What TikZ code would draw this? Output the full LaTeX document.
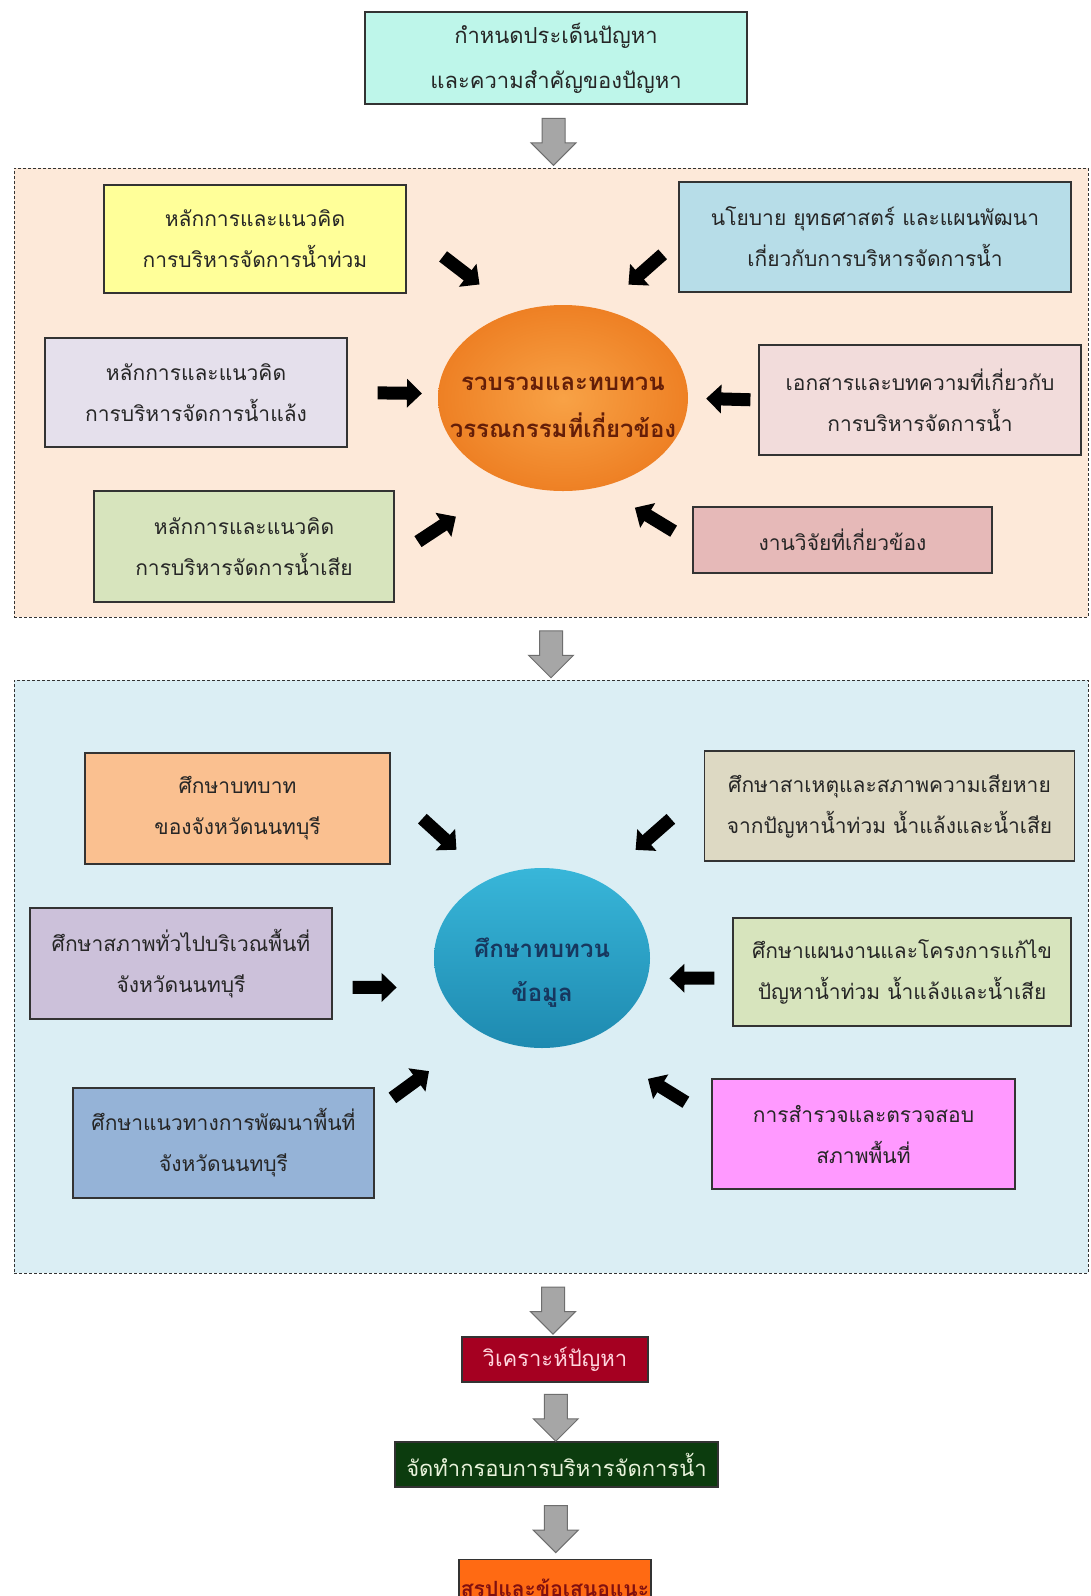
\documentclass[tikz,border=0pt]{standalone}
\usepackage{fontspec}
\newfontfamily\thai[Script=Thai]{Loma}
\usetikzlibrary {arrows.meta,calc,shapes.arrows,shapes.geometric}

\definecolor{cProb}{RGB}{190,246,234}
\definecolor{cFlood}{RGB}{255,255,153}
\definecolor{cPolicy}{RGB}{183,221,232}
\definecolor{cDrought}{RGB}{229,224,236}
\definecolor{cDocs}{RGB}{242,220,219}
\definecolor{cWaste}{RGB}{215,228,189}
\definecolor{cResearch}{RGB}{230,185,184}
\definecolor{cRole}{RGB}{250,192,144}
\definecolor{cCause}{RGB}{221,217,195}
\definecolor{cArea}{RGB}{204,193,218}
\definecolor{cPlan}{RGB}{215,228,189}
\definecolor{cDev}{RGB}{149,179,215}
\definecolor{cSurvey}{RGB}{255,153,255}
\definecolor{cPanelA}{RGB}{253,233,217}
\definecolor{cPanelB}{RGB}{219,238,244}
\definecolor{cLitIn}{RGB}{248,162,70}
\definecolor{cLitOut}{RGB}{238,128,36}
\definecolor{cLitText}{RGB}{100,30,8}
\definecolor{cDataTop}{RGB}{56,182,217}
\definecolor{cDataBot}{RGB}{30,138,176}
\definecolor{cDataText}{RGB}{23,55,94}
\definecolor{cAnal}{RGB}{165,0,33}
\definecolor{cAnalText}{RGB}{255,214,222}
\definecolor{cFrame}{RGB}{12,60,14}
\definecolor{cFrameText}{RGB}{232,242,218}
\definecolor{cSumm}{RGB}{255,106,19}
\definecolor{cSummText}{RGB}{128,16,16}
\definecolor{cArrow}{RGB}{166,166,166}
\definecolor{cArrowLine}{RGB}{110,110,110}

\begin{document}
\begin{tikzpicture}[x= 1pt, y= -1pt, font= \thai\fontsize{21}{41}\selectfont, text= black!85]
      \useasboundingbox (0,0) rectangle (1090,1596);
      \fill[white] (0,0) rectangle (1090,1596);
      \begin{scope}[every node/.style={rectangle,densely dashed,draw= black!80,line width= 0.8pt,minimum width= 1074pt}]
        \node[fill= cPanelA, minimum height= 449pt] (panelA) at (551,392.5) {};
        \node[fill= cPanelB, minimum height= 593pt] (panelB) at (551,976.5) {};
      \end{scope}
      \begin{scope}[every node/.style={rectangle,draw= black!80,line width= 1.2pt,align= center,inner sep= 2pt}]
        \node[fill= cProb, minimum width= 382pt, minimum height= 92pt, font= \thai\fontsize{22}{45}\selectfont] (prob) at (556,58) {กำหนดประเด็นปัญหา\\และความสำคัญของปัญหา};
        \node[fill= cFlood, minimum width= 302pt, minimum height= 108pt] (flood) at (255,239) {หลักการและแนวคิด\\การบริหารจัดการน้ำท่วม};
        \node[fill= cPolicy, minimum width= 392pt, minimum height= 110pt] (policy) at (875,237) {นโยบาย ยุทธศาสตร์ และแผนพัฒนา\\เกี่ยวกับการบริหารจัดการน้ำ};
        \node[fill= cDrought, minimum width= 302pt, minimum height= 109pt] (drought) at (196,392.5) {หลักการและแนวคิด\\การบริหารจัดการน้ำแล้ง};
        \node[fill= cDocs, minimum width= 322pt, minimum height= 110pt] (docs) at (920,400) {เอกสารและบทความที่เกี่ยวกับ\\การบริหารจัดการน้ำ};
        \node[fill= cWaste, minimum width= 300pt, minimum height= 111pt] (waste) at (244,546.5) {หลักการและแนวคิด\\การบริหารจัดการน้ำเสีย};
        \node[fill= cResearch, minimum width= 299pt, minimum height= 66pt] (research) at (842.5,540) {งานวิจัยที่เกี่ยวข้อง};
        \node[fill= cRole, minimum width= 305pt, minimum height= 111pt] (role) at (237.5,808.5) {ศึกษาบทบาท\\ของจังหวัดนนทบุรี};
        \node[fill= cCause, minimum width= 370pt, minimum height= 110pt] (cause) at (889.5,806) {ศึกษาสาเหตุและสภาพความเสียหาย\\จากปัญหาน้ำท่วม น้ำแล้งและน้ำเสีย};
        \node[fill= cArea, minimum width= 302pt, minimum height= 111pt] (area) at (181,963.5) {ศึกษาสภาพทั่วไปบริเวณพื้นที่\\จังหวัดนนทบุรี};
        \node[fill= cPlan, minimum width= 338pt, minimum height= 108pt] (plan) at (902,972) {ศึกษาแผนงานและโครงการแก้ไข\\ปัญหาน้ำท่วม น้ำแล้งและน้ำเสีย};
        \node[fill= cDev, minimum width= 301pt, minimum height= 110pt] (dev) at (223.5,1143) {ศึกษาแนวทางการพัฒนาพื้นที่\\จังหวัดนนทบุรี};
        \node[fill= cSurvey, minimum width= 303pt, minimum height= 110pt] (survey) at (863.5,1134) {การสำรวจและตรวจสอบ\\สภาพพื้นที่};
        \node[fill= cAnal, minimum width= 186pt, minimum height= 45pt, text= cAnalText, font= \thai\fontsize{22}{26}\selectfont] (anal) at (555,1359.5) {วิเคราะห์ปัญหา};
        \node[fill= cFrame, minimum width= 323pt, minimum height= 45pt, text= cFrameText, font= \thai\fontsize{22}{26}\selectfont] (frame) at (556.5,1464.5) {จัดทำกรอบการบริหารจัดการน้ำ};
        \node[fill= cSumm, minimum width= 190pt, minimum height= 62pt, anchor= north, text= cSummText, font= \thai\bfseries\fontsize{21}{26}\selectfont] (summ) at (555,1559) {สรุปและข้อเสนอแนะ};
      \end{scope}
      \node[ellipse, minimum width= 250pt, minimum height= 186pt, inner sep= 0pt, inner color= cLitIn, outer color= cLitOut] (lit) at (563,398) {};
      \node[align= center, text= cLitText, yshift= -9pt, font= \thai\bfseries\fontsize{24}{47}\selectfont] (litT) at (lit) {รวบรวมและทบทวน\\วรรณกรรมที่เกี่ยวข้อง};
      \node[ellipse, minimum width= 216pt, minimum height= 180pt, inner sep= 0pt, top color= cDataTop, bottom color= cDataBot] (data) at (542,958) {};
      \node[align= center, text= cDataText, yshift= -15pt, font= \thai\bfseries\fontsize{24}{44}\selectfont] (dataT) at (data) {ศึกษาทบทวน\\ข้อมูล};
      \begin{scope}[every node/.style={single arrow,rotate= -90,fill= cArrow,draw= cArrowLine,line width= 1pt,minimum height= 47pt,inner xsep= 0pt,inner ysep= 11pt,single arrow head extend= 11pt}]
        \node (g1) at ($(prob.south)!0.5!(panelA.north)$) {};
        \node (g2) at ($(panelA.south)!0.5!(panelB.north)$) {};
        \node (g3) at ($(panelB.south)!0.5!(anal.north)$) {};
        \node (g4) at ($(anal.south)!0.5!(frame.north)$) {};
        \node (g5) at ($(frame.south)!0.5!(summ.north)$) {};
      \end{scope}
      \begin{scope}
        [every edge/.style={draw= black, line width= 13pt, -{Triangle[length= 15pt, width= 28pt]}}]
        \path (flood.4) edge[shorten <= 46pt, shorten >= 45pt] (lit.119);
        \path (policy.181) edge[shorten <= 21pt, shorten >= 37pt] (lit.67);
        \path (drought.east) edge[shorten <= 30pt, shorten >= 16pt] (lit.178);
        \path (docs.west) edge[shorten <= 8pt, shorten >= 18pt] (lit.east);
        \path (waste.356) edge[shorten <= 28pt, shorten >= 63pt] (lit.237);
        \path (research.181) edge[shorten <= 22pt, shorten >= 40pt] (lit.293);
        \path (role.7) edge[shorten <= 43pt, shorten >= 44pt] (data.124);
        \path (cause.175) edge[shorten <= 44pt, shorten >= 48pt] (data.53);
        \path (area.351) edge[shorten <= 20pt, shorten >= 43pt] (data.196);
        \path (plan.182) edge[shorten <= 18pt, shorten >= 22pt] (data.349);
        \path (dev.12) edge[shorten <= 22pt, shorten >= 65pt] (data.231);
        \path (survey.174) edge[shorten <= 30pt, shorten >= 73pt] (data.298);
      \end{scope}
    \end{tikzpicture}
\end{document}
